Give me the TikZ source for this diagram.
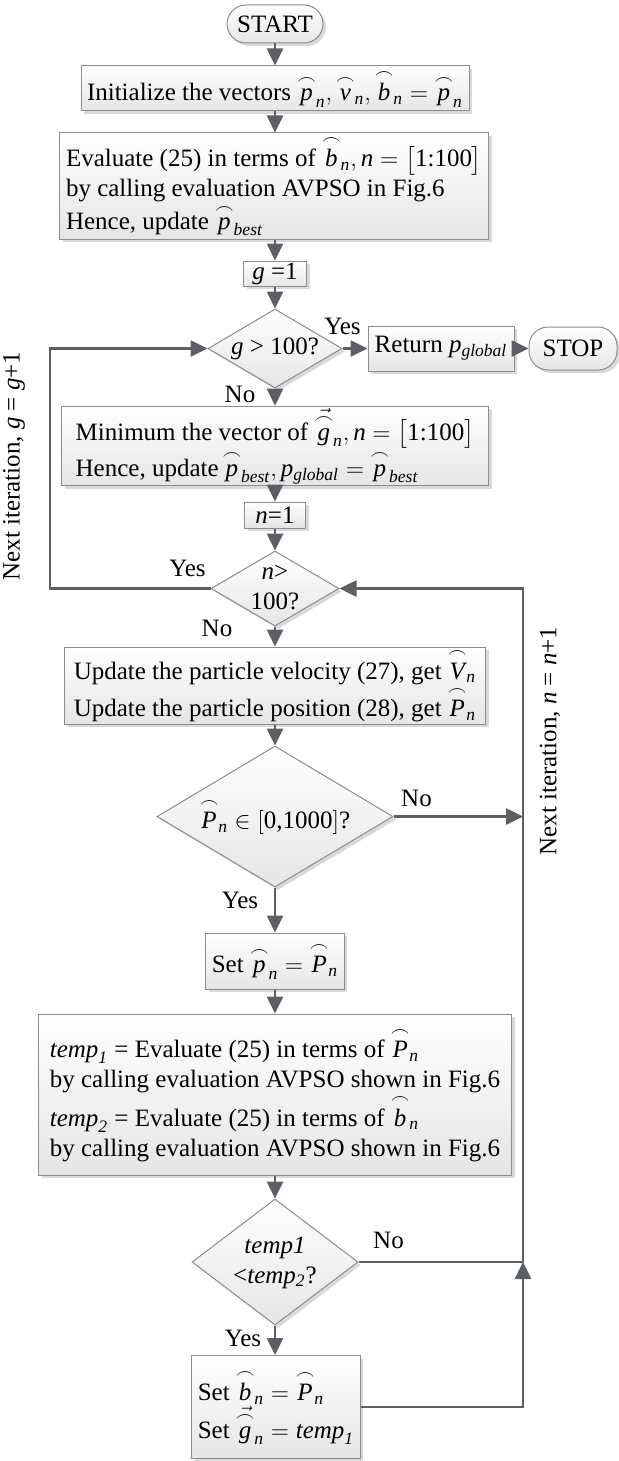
\documentclass[tikz,border=0pt]{standalone}
\usepackage{amsmath}
\usepackage{fontspec}
\setmainfont{Liberation Serif}
\usetikzlibrary{arrows.meta, positioning, calc, shapes.geometric, shadows}
\definecolor{linegray}{HTML}{5C5F63}
\definecolor{edgegray}{HTML}{8C8C8C}
\newcommand{\arcv}[1]{\overset{\frown}{\mathit{#1}}}
\newcommand{\arcn}[1]{\arcv{#1}_{\mathit{n}}}
\tikzset{
  every node/.style={font=\fontsize{12.5}{15}\selectfont},
  proc/.style={
    draw=edgegray, line width=0.5pt, top color=white, bottom color=black!10,
    drop shadow={shadow xshift=1.5pt, shadow yshift=-1.5pt, fill=black!15, opacity=1},
    inner xsep=3pt, inner ysep=1pt, align=left
  },
  term/.style={proc, rounded corners=9.5pt, align=center},
  decision/.style={proc, diamond, inner sep=0pt},
  lbl/.style={inner sep=0pt},
  arr/.style={draw=linegray, line width=1.3pt, -{Triangle[length=8.5pt,width=8pt]}},
  link/.style={draw=linegray, line width=1.3pt},
}
\begin{document}
\begin{tikzpicture}[x=0.5pt, y=-0.5pt]
  \useasboundingbox (0,0) rectangle (618,1461);

  % Main column
  \node[term, minimum width=48pt, minimum height=19pt] (start) at (275,24) {START};
  \node[proc, minimum width=192.5pt, minimum height=22.5pt] (init) at (275,88.5)
    {Initialize the vectors $\arcn{p},\arcn{v},\arcn{b}=\arcn{p}$};
  \node[proc, minimum width=214.5pt, minimum height=53pt] (eval) at (274,186)
    {Evaluate (25) in terms of $\arcn{b},\mathit{n}=\big[\text{1:100}\big]$\\
     by calling evaluation AVPSO in Fig.6\\
     Hence, update $\arcv{p}_{\mathit{best}}$};
  \node[proc, minimum width=31.5pt, minimum height=12.5pt, inner ysep=0pt] (ginit) at (275,273.5)
    {$\mathit{g}$ =1};
  \node[decision, minimum width=67pt, minimum height=39.5pt] (dg) at (275,348.5)
    {\makebox[0pt]{$\mathit{g}$ > 100?}};
  \node[proc, minimum width=213.5pt, minimum height=34pt] (min) at (275,446)
    {Minimum the vector of $\vec{\arcv{g}}_{\mathit{n}},\mathit{n}=\big[\text{1:100}\big]$\\
     Hence, update$\,\arcv{p}_{\mathit{best}},\mathit{p}_{\mathit{global}}=\arcv{p}_{\mathit{best}}$};
  \node[proc, minimum width=30.5pt, minimum height=13pt, inner ysep=0pt] (ninit) at (275,515)
    {$\mathit{n}$=1};
  \node[decision, minimum width=64pt, minimum height=37.5pt] (dn) at (275,588.5)
    {\makebox[0pt]{\begin{tabular}{@{}c@{}}$\mathit{n}$>\\100?\end{tabular}}};
  \node[proc, minimum width=210.5pt, minimum height=38.5pt] (upd) at (275,685.5)
    {Update the particle velocity (27), get $\arcn{V}$\\
     Update the particle position (28), get $\arcn{P}$};
  \node[decision, minimum width=118pt, minimum height=70.5pt] (dp) at (275,816.5)
    {\makebox[0pt]{$\arcn{P}\in[\text{0,1000}]$?}};
  \node[proc, minimum width=64pt, minimum height=28pt] (setp) at (275,961)
    {Set $\arcn{p}=\arcn{P}$};
  \node[proc, minimum width=236.5pt, minimum height=80.5pt] (temp) at (275,1094.5)
    {$\mathit{temp}_{\mathit{1}}$ = Evaluate (25) in terms of $\arcn{P}$\\
     by calling evaluation AVPSO shown in Fig.6\\
     $\mathit{temp}_{\mathit{2}}$ = Evaluate (25) in terms of $\arcn{b}$\\
     by calling evaluation AVPSO shown in Fig.6};
  \node[decision, minimum width=83pt, minimum height=63pt] (dt) at (275,1262)
    {\makebox[0pt]{\begin{tabular}{@{}c@{}}\textit{temp1}\\<\textit{temp}$_{\mathit{2}}$?\end{tabular}}};
  \node[proc, minimum width=80pt, minimum height=51.5pt] (fin) at (276,1407)
    {Set $\arcn{b}=\arcn{P}$\\
     Set $\vec{\arcv{g}}_{\mathit{n}}=\mathit{temp}_{\mathit{1}}$};

  % Exit branch
  \node[proc, minimum width=73pt, minimum height=22.5pt, right=12.5pt of dg] (ret)
    {Return $\mathit{p}_{\mathit{global}}$};
  \node[term, minimum width=44pt, minimum height=21.5pt, right=7pt of ret] (stop) {STOP};

  % Loop rails
  \coordinate (lx) at (50,0);
  \coordinate (rx) at (523,0);

  % Arrows
  \draw[arr] (start) -- (init);
  \draw[arr] (init) -- (eval.north -| init);
  \draw[arr] (eval.south -| ginit) -- (ginit);
  \draw[arr] (ginit) -- (dg);
  \draw[arr] (dg) -- (min);
  \draw[arr] (min) -- (ninit);
  \draw[arr] (ninit) -- (dn);
  \draw[arr] (dn) -- (upd);
  \draw[arr] (upd) -- (dp);
  \draw[arr] (dp) -- (setp);
  \draw[arr] (setp) -- (temp);
  \draw[arr] (temp) -- (dt);
  \draw[arr] (dt.south) -- (fin.north -| dt.south);
  \draw[arr] (dg) -- (ret);
  \draw[arr] (ret) -- (stop);

  \draw[arr] (dn.west) -- (dn.west -| lx) |- (dg.west);
  \draw[arr] (dp.east) -- (dp.east -| rx);
  \draw[arr] (fin.east) -| (rx |- dt.east);
  \draw[arr] (dt.east) -- (dt.east -| rx) |- (dn.east);

  % Branch labels
  \node[lbl] (yes1) at ($(dg.east)+(0,-22)$) {Yes};
  \node[lbl] (no1) at ($(dg.south)+(-35,6)$) {No};
  \node[lbl] (yes2) at ($(dn.west)+(-23,-20)$) {Yes};
  \node[lbl] (no2) at ($(dn.south)+(-58,2)$) {No};
  \node[lbl] (no3) at ($(dp.east)+(23,-18)$) {No};
  \node[lbl] (yes3) at ($(dp.south)+(-35,13)$) {Yes};
  \node[lbl] (no4) at ($(dt.east)+(30,-22)$) {No};
  \node[lbl] (yes4) at ($(dt.south)+(-32,13)$) {Yes};

  % Side notes
  \node[lbl, rotate=90] (itg) at (14,466) {Next iteration, $\mathit{g}$ = $\mathit{g}$+1};
  \node[lbl, rotate=90] (itn) at (550,741) {Next iteration, $\mathit{n}$ = $\mathit{n}$+1};
\end{tikzpicture}
\end{document}
